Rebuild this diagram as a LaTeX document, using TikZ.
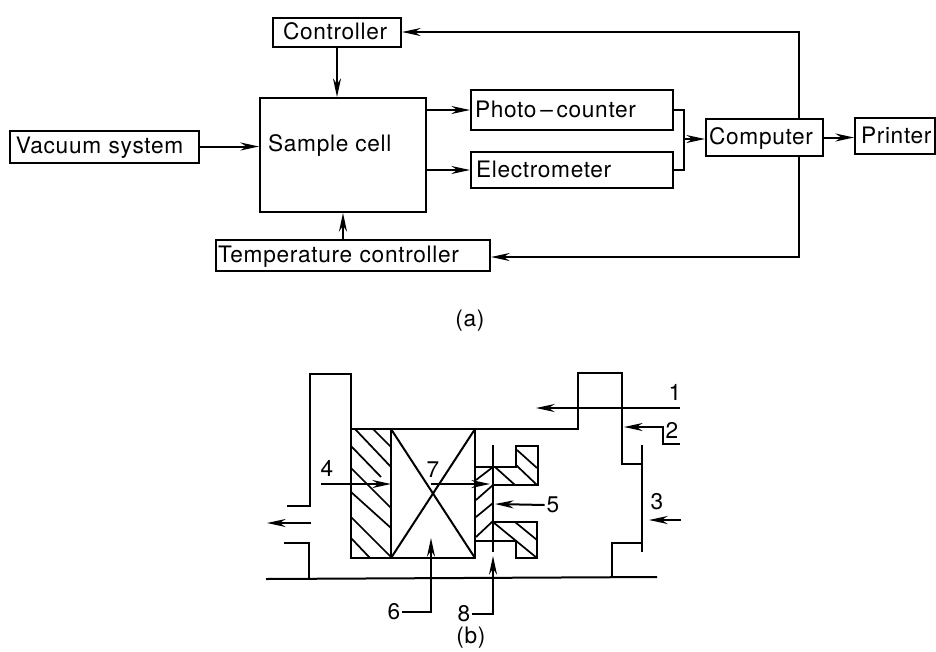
\documentclass[tikz,border=0pt]{standalone}
\usepackage{fontspec}
\setmainfont[LetterSpace=3]{TeX Gyre Heros}
\usetikzlibrary{arrows.meta}

\tikzset{every picture/.style={line width=1.5pt}}
\tikzset{
  blockbox/.style n args={3}{draw, inner xsep=#3, inner ysep=0pt, text width=#1-2*#3, text height=12pt, text depth=1pt, minimum height=#2, align=left, font=\fontsize{17}{18}\selectfont},
  plainbox/.style={draw, inner sep=0pt},
  labeltext/.style={inner sep=0.75pt, font=\fontsize{17}{18}\selectfont},
  flowarrow/.style={-{Stealth[length=14pt,width=6pt]}},
  thinhatch/.style={line width=1.3pt}
}

\begin{document}
\begin{tikzpicture}[x=0.75pt,y=0.75pt,yscale=-1,xscale=1]
\useasboundingbox (0,0) rectangle (936,651);

% Text Node
\node [blockbox={96pt}{21.75pt}{7.5pt}] (controller) at (337,32.5) {Controller};
\node [plainbox, minimum width=124.5pt, minimum height=85.5pt] (cell) at (343,155) {};
\node [labeltext, anchor=west] (celltext) at (266,145) {Sample cell};
\node [blockbox={141.75pt}{24pt}{4.5pt}] (vacuum) at (104.5,146.5) {Vacuum system};
\node [blockbox={151.5pt}{30pt}{3pt}] (photo) at (572,110) {Photo\,–\,counter};
\node [blockbox={151.5pt}{27pt}{3.75pt}] (electro) at (572,170) {Electrometer};
\node [blockbox={87.75pt}{27.75pt}{2.25pt}] (computer) at (764.5,137.5) {Computer};
\node [blockbox={60pt}{27pt}{4.5pt}] (printer) at (895,136) {Printer};
\node [blockbox={205.5pt}{23.25pt}{1.5pt}] (temp) at (353,255.5) {Temperature controller};
\node [labeltext] (capa) at (470,321) {(a)};
\node [labeltext] (capb) at (471,638) {(b)};

%Straight Lines
\coordinate (topturn) at (799,32);
\coordinate (lowturn) at (799,257);
\coordinate (merge) at (684,139);
\draw [flowarrow] (controller.south) -- (controller.south |- cell.north);
\draw [flowarrow] (vacuum.east) -- (vacuum.east -| cell.west);
\draw [flowarrow] (cell.east |- photo.west) -- (photo.west);
\draw [flowarrow] (cell.east |- electro.west) -- (electro.west);
\draw [flowarrow] (cell.south |- temp.north) -- (cell.south);
\draw (photo.east) -| (merge) |- (electro.east);
\draw [flowarrow] (merge) -- (merge -| computer.west);
\draw [flowarrow] (computer.east) -- (computer.east -| printer.west);
\draw [flowarrow] (computer.north -| topturn) -- (topturn) -- (topturn -| controller.east);
\draw [flowarrow] (computer.south -| lowturn) -- (lowturn) -- (lowturn -| temp.east);

%Shapes
\draw (287,506) -- (310,506) -- (310,374) -- (351,374) -- (351,558) -- (475,558) -- (475,429);
\draw (351,429) -- (578,429) -- (578,373) -- (622,373) -- (622,464) -- (642,464);
\draw (642,445) -- (642,552);
\draw (642,543) -- (612,543) -- (612,578);
\draw (284,543) -- (309,543) -- (309,579);
\draw (266,579) -- (657,577);
\draw (391,429) -- (391,558);
\draw (391,429) -- (475,558);
\draw (391,558) -- (475,429);
\draw (493,445) -- (493,552);
\draw (475,467) -- (516,467) -- (516,446) -- (538,446) -- (538,485) -- (493,485);
\draw (493,522) -- (537,522) -- (537,558) -- (516,558) -- (516,541) -- (475,541);

%Hatching
\draw [thinhatch] (373,429) -- (391,447);
\draw [thinhatch] (355,429) -- (391,467);
\draw [thinhatch] (351,446) -- (381,477);
\draw [thinhatch] (351,468) -- (391,508);
\draw [thinhatch] (351,492) -- (391,528);
\draw [thinhatch] (351,517) -- (391,557);
\draw [thinhatch] (351,538) -- (370,558);
\draw [thinhatch] (517,450) -- (537,468);
\draw [thinhatch] (516,465) -- (537,485);
\draw [thinhatch] (495,467) -- (515,485);
\draw [thinhatch] (476,480) -- (493,467);
\draw [thinhatch] (476,500) -- (493,485);
\draw [thinhatch] (476,517) -- (493,503);
\draw [thinhatch] (476,537) -- (493,521);
\draw [thinhatch] (493,522) -- (537,558);
\draw [thinhatch] (515,522) -- (537,540);

% Text Node
\node [labeltext] (num1) at (675,392) {1};
\node [labeltext] (num2) at (672,430) {2};
\node [labeltext] (num3) at (657,502) {3};
\node [labeltext] (num4) at (327,468) {4};
\node [labeltext] (num5) at (553,505) {5};
\node [labeltext] (num6) at (394,612) {6};
\node [labeltext] (num7) at (433,470) {7};
\node [labeltext] (num8) at (464,614) {8};

%Straight Lines
\coordinate (from1) at (680,408);
\coordinate (to1) at (536,408);
\coordinate (from2) at (680,444);
\coordinate (bend2) at (663,427);
\coordinate (to2) at (624,427);
\coordinate (from3) at (681,520);
\coordinate (to3) at (649,520);
\coordinate (from4) at (321,484);
\coordinate (to4) at (391,484);
\coordinate (from7) at (431,484);
\coordinate (to7) at (490,484);
\coordinate (to5) at (495,504);
\coordinate (to6) at (431,538);
\coordinate (to8) at (493,556);
\coordinate (outfrom) at (311,523);
\coordinate (outto) at (267,523);
\draw [flowarrow] (from1) -- (to1);
\draw [flowarrow] (from2) -| (bend2) -- (to2);
\draw [flowarrow] (from3) -- (to3);
\draw [flowarrow] (from4) -- (to4);
\draw [flowarrow] (from7) -- (to7);
\draw [flowarrow] (num5.west) -- (to5);
\draw [flowarrow] (num6.east) -| (to6);
\draw [flowarrow] (num8.east) -| (to8);
\draw [flowarrow] (outfrom) -- (outto);

\end{tikzpicture}
\end{document}
